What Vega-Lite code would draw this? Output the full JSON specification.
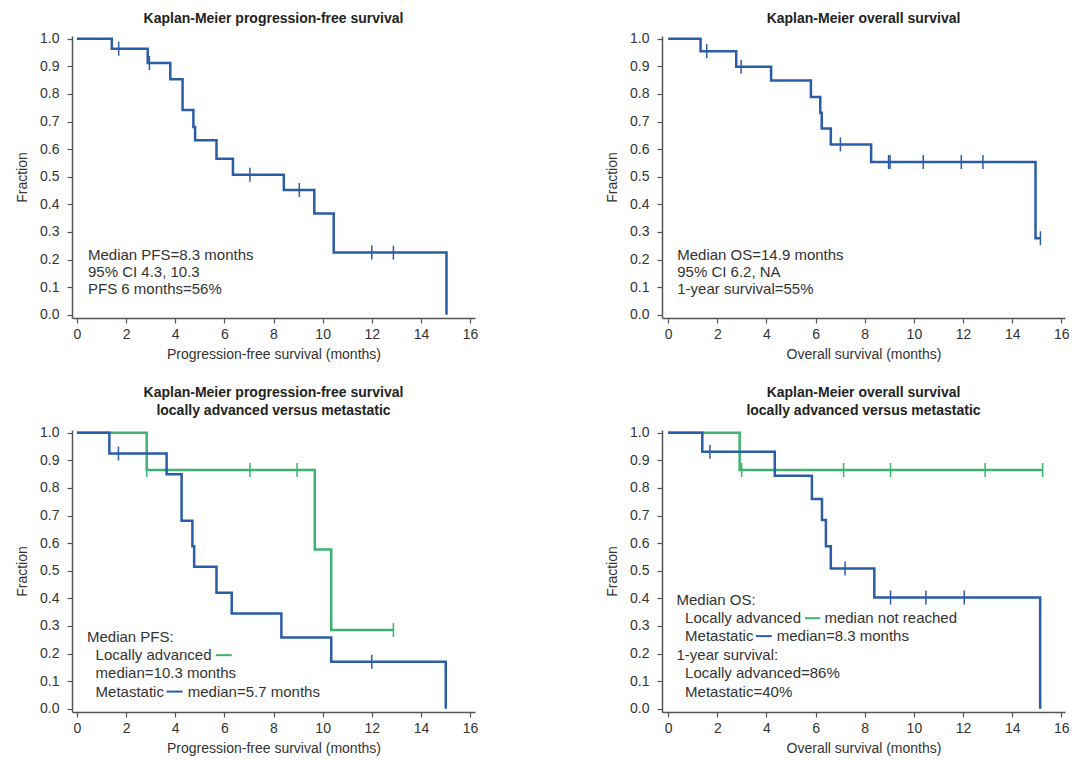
{
  "$schema": "https://vega.github.io/schema/vega-lite/v6.json",
  "background": "white",
  "padding": {"left": 15, "top": 11, "right": 5, "bottom": 5},
  "datasets": {
    "km": [
      {"p":1,"g":"M","c":0,"t":0,"s":1},
      {"p":1,"g":"M","c":0,"t":1.42,"s":0.964},
      {"p":1,"g":"M","c":0,"t":2.88,"s":0.912},
      {"p":1,"g":"M","c":0,"t":3.8,"s":0.853},
      {"p":1,"g":"M","c":0,"t":4.3,"s":0.742},
      {"p":1,"g":"M","c":0,"t":4.74,"s":0.68},
      {"p":1,"g":"M","c":0,"t":4.81,"s":0.632},
      {"p":1,"g":"M","c":0,"t":5.68,"s":0.565},
      {"p":1,"g":"M","c":0,"t":6.35,"s":0.507},
      {"p":1,"g":"M","c":0,"t":8.42,"s":0.452},
      {"p":1,"g":"M","c":0,"t":9.66,"s":0.367},
      {"p":1,"g":"M","c":0,"t":10.45,"s":0.225},
      {"p":1,"g":"M","c":0,"t":15.04,"s":0},
      {"p":1,"g":"M","c":1,"t":1.7,"s":0.964},
      {"p":1,"g":"M","c":1,"t":2.95,"s":0.912},
      {"p":1,"g":"M","c":1,"t":7.04,"s":0.507},
      {"p":1,"g":"M","c":1,"t":9.05,"s":0.452},
      {"p":1,"g":"M","c":1,"t":12.0,"s":0.225},
      {"p":1,"g":"M","c":1,"t":12.88,"s":0.225},

      {"p":2,"g":"M","c":0,"t":0,"s":1},
      {"p":2,"g":"M","c":0,"t":1.32,"s":0.955},
      {"p":2,"g":"M","c":0,"t":2.77,"s":0.899},
      {"p":2,"g":"M","c":0,"t":4.19,"s":0.849},
      {"p":2,"g":"M","c":0,"t":5.81,"s":0.789},
      {"p":2,"g":"M","c":0,"t":6.19,"s":0.732},
      {"p":2,"g":"M","c":0,"t":6.25,"s":0.675},
      {"p":2,"g":"M","c":0,"t":6.62,"s":0.617},
      {"p":2,"g":"M","c":0,"t":8.26,"s":0.553},
      {"p":2,"g":"M","c":0,"t":14.95,"s":0.277},
      {"p":2,"g":"M","c":0,"t":15.15,"s":0.277},
      {"p":2,"g":"M","c":1,"t":1.57,"s":0.955},
      {"p":2,"g":"M","c":1,"t":2.97,"s":0.899},
      {"p":2,"g":"M","c":1,"t":7.01,"s":0.617},
      {"p":2,"g":"M","c":1,"t":8.97,"s":0.553},
      {"p":2,"g":"M","c":1,"t":9.03,"s":0.553},
      {"p":2,"g":"M","c":1,"t":10.38,"s":0.553},
      {"p":2,"g":"M","c":1,"t":11.93,"s":0.553},
      {"p":2,"g":"M","c":1,"t":12.81,"s":0.553},
      {"p":2,"g":"M","c":1,"t":15.15,"s":0.277},

      {"p":3,"g":"L","c":0,"t":0,"s":1},
      {"p":3,"g":"L","c":0,"t":2.84,"s":0.865},
      {"p":3,"g":"L","c":0,"t":9.68,"s":0.577},
      {"p":3,"g":"L","c":0,"t":10.35,"s":0.285},
      {"p":3,"g":"L","c":0,"t":12.88,"s":0.285},
      {"p":3,"g":"L","c":1,"t":2.84,"s":0.865},
      {"p":3,"g":"L","c":1,"t":7.04,"s":0.865},
      {"p":3,"g":"L","c":1,"t":8.96,"s":0.865},
      {"p":3,"g":"L","c":1,"t":12.88,"s":0.285},
      {"p":3,"g":"M","c":0,"t":0,"s":1},
      {"p":3,"g":"M","c":0,"t":1.32,"s":0.925},
      {"p":3,"g":"M","c":0,"t":3.65,"s":0.85},
      {"p":3,"g":"M","c":0,"t":4.26,"s":0.681},
      {"p":3,"g":"M","c":0,"t":4.7,"s":0.589},
      {"p":3,"g":"M","c":0,"t":4.77,"s":0.514},
      {"p":3,"g":"M","c":0,"t":5.68,"s":0.42},
      {"p":3,"g":"M","c":0,"t":6.3,"s":0.345},
      {"p":3,"g":"M","c":0,"t":8.32,"s":0.258},
      {"p":3,"g":"M","c":0,"t":10.35,"s":0.17},
      {"p":3,"g":"M","c":0,"t":15.01,"s":0},
      {"p":3,"g":"M","c":1,"t":1.69,"s":0.925},
      {"p":3,"g":"M","c":1,"t":12.0,"s":0.17},

      {"p":4,"g":"L","c":0,"t":0,"s":1},
      {"p":4,"g":"L","c":0,"t":2.91,"s":0.865},
      {"p":4,"g":"L","c":0,"t":15.24,"s":0.865},
      {"p":4,"g":"L","c":1,"t":2.99,"s":0.865},
      {"p":4,"g":"L","c":1,"t":7.14,"s":0.865},
      {"p":4,"g":"L","c":1,"t":9.05,"s":0.865},
      {"p":4,"g":"L","c":1,"t":12.9,"s":0.865},
      {"p":4,"g":"L","c":1,"t":15.24,"s":0.865},
      {"p":4,"g":"M","c":0,"t":0,"s":1},
      {"p":4,"g":"M","c":0,"t":1.39,"s":0.931},
      {"p":4,"g":"M","c":0,"t":4.34,"s":0.844},
      {"p":4,"g":"M","c":0,"t":5.85,"s":0.76},
      {"p":4,"g":"M","c":0,"t":6.26,"s":0.684},
      {"p":4,"g":"M","c":0,"t":6.42,"s":0.589},
      {"p":4,"g":"M","c":0,"t":6.62,"s":0.508},
      {"p":4,"g":"M","c":0,"t":8.39,"s":0.403},
      {"p":4,"g":"M","c":0,"t":15.14,"s":0},
      {"p":4,"g":"M","c":1,"t":1.7,"s":0.931},
      {"p":4,"g":"M","c":1,"t":7.2,"s":0.508},
      {"p":4,"g":"M","c":1,"t":9.05,"s":0.403},
      {"p":4,"g":"M","c":1,"t":10.49,"s":0.403},
      {"p":4,"g":"M","c":1,"t":12.05,"s":0.403}
    ],
    "notes": [
      {"p":1,"k":"a","note":"Median PFS=8.3 months"},
      {"p":1,"k":"b","note":"95% CI 4.3, 10.3"},
      {"p":1,"k":"c","note":"PFS 6 months=56%"},
      {"p":2,"k":"a","note":"Median OS=14.9 months"},
      {"p":2,"k":"b","note":"95% CI 6.2, NA"},
      {"p":2,"k":"c","note":"1-year survival=55%"},
      {"p":3,"k":"a","note":"Median PFS:"},
      {"p":3,"k":"b","note":"Locally advanced"},
      {"p":3,"k":"c","note":"median=10.3 months"},
      {"p":3,"k":"d","note":"Metastatic"},
      {"p":3,"k":"e","note":"median=5.7 months"},
      {"p":4,"k":"a","note":"Median OS:"},
      {"p":4,"k":"b","note":"Locally advanced"},
      {"p":4,"k":"c","note":"median not reached"},
      {"p":4,"k":"d","note":"Metastatic"},
      {"p":4,"k":"e","note":"median=8.3 months"},
      {"p":4,"k":"f","note":"1-year survival:"},
      {"p":4,"k":"g","note":"Locally advanced=86%"},
      {"p":4,"k":"h","note":"Metastatic=40%"}
    ]
  },
  "config": {
    "font": "Liberation Sans",
    "view": {"stroke": null},
    "axis": {
      "grid": false,
      "domainColor": "#555555",
      "domainWidth": 1.5,
      "tickColor": "#555555",
      "tickWidth": 1.2,
      "tickSize": 5,
      "labelColor": "#333333",
      "labelFontSize": 14,
      "labelFont": "Liberation Sans",
      "titleColor": "#333333",
      "titleFontSize": 14,
      "titleFontWeight": "normal",
      "titleFont": "Liberation Sans"
    },
    "axisY": {"labelPadding": 8, "titlePadding": 10},
    "axisX": {"labelPadding": 4, "titlePadding": 6},
    "title": {"fontSize": 14, "fontWeight": "bold", "color": "#222222", "font": "Liberation Sans", "anchor": "middle"},
    "text": {"align": "left", "baseline": "middle", "fontSize": 15, "color": "#333333", "font": "Liberation Sans"}
  },
  "columns": 2,
  "spacing": {"row": 112, "column": 187},
  "bounds": "flush",
  "concat": [
    {
      "width": 403, "height": 282,
      "title": {"text": "Kaplan-Meier progression-free survival", "offset": 6},
      "layer": [
        {"data": {"name": "km"}, "transform": [{"filter": "datum.p == 1 && datum.c == 0"}], "mark": {"type": "line", "interpolate": "step-after", "strokeWidth": 2.5},
         "encoding": {
          "x": {"field": "t", "type": "quantitative", "scale": {"domain": [-0.2, 16.2], "nice": false, "zero": false}, "axis": {"values": [0,2,4,6,8,10,12,14,16], "title": "Progression-free survival (months)"}},
          "y": {"field": "s", "type": "quantitative", "scale": {"domain": [-0.012, 1.01], "nice": false, "zero": false}, "axis": {"values": [0,0.1,0.2,0.3,0.4,0.5,0.6,0.7,0.8,0.9,1], "format": ".1f", "title": "Fraction"}},
          "color": {"field": "g", "type": "nominal", "scale": {"domain": ["L","M"], "range": ["#3cb371","#2b5ca8"]}, "legend": null}}},
        {"data": {"name": "km"}, "transform": [{"filter": "datum.p == 1 && datum.c == 1"}], "mark": {"type": "point", "shape": "M0,-1L0,1", "size": 196, "strokeWidth": 1.5, "filled": false, "opacity": 1},
         "encoding": {"x": {"field": "t", "type": "quantitative", "axis": {"values": [0,2,4,6,8,10,12,14,16], "title": "Progression-free survival (months)"}}, "y": {"field": "s", "type": "quantitative", "axis": {"values": [0,0.1,0.2,0.3,0.4,0.5,0.6,0.7,0.8,0.9,1], "format": ".1f", "title": "Fraction"}}, "color": {"field": "g", "type": "nominal", "legend": null}}},
        {"data": {"name": "notes"}, "transform": [{"filter": "datum.p == 1 && datum.k == 'a'"}], "mark": "text", "encoding": {"x": {"datum": 0.45, "type": "quantitative", "axis": {"values": [0,2,4,6,8,10,12,14,16], "title": "Progression-free survival (months)"}}, "y": {"datum": 0.216, "type": "quantitative", "axis": {"values": [0,0.1,0.2,0.3,0.4,0.5,0.6,0.7,0.8,0.9,1], "format": ".1f", "title": "Fraction"}}, "text": {"field": "note", "type": "nominal"}}},
        {"data": {"name": "notes"}, "transform": [{"filter": "datum.p == 1 && datum.k == 'b'"}], "mark": "text", "encoding": {"x": {"datum": 0.45, "type": "quantitative", "axis": {"values": [0,2,4,6,8,10,12,14,16], "title": "Progression-free survival (months)"}}, "y": {"datum": 0.155, "type": "quantitative", "axis": {"values": [0,0.1,0.2,0.3,0.4,0.5,0.6,0.7,0.8,0.9,1], "format": ".1f", "title": "Fraction"}}, "text": {"field": "note", "type": "nominal"}}},
        {"data": {"name": "notes"}, "transform": [{"filter": "datum.p == 1 && datum.k == 'c'"}], "mark": "text", "encoding": {"x": {"datum": 0.45, "type": "quantitative", "axis": {"values": [0,2,4,6,8,10,12,14,16], "title": "Progression-free survival (months)"}}, "y": {"datum": 0.094, "type": "quantitative", "axis": {"values": [0,0.1,0.2,0.3,0.4,0.5,0.6,0.7,0.8,0.9,1], "format": ".1f", "title": "Fraction"}}, "text": {"field": "note", "type": "nominal"}}}
      ]
    },
    {
      "width": 403, "height": 282,
      "title": {"text": "Kaplan-Meier overall survival", "offset": 6},
      "layer": [
        {"data": {"name": "km"}, "transform": [{"filter": "datum.p == 2 && datum.c == 0"}], "mark": {"type": "line", "interpolate": "step-after", "strokeWidth": 2.5},
         "encoding": {
          "x": {"field": "t", "type": "quantitative", "scale": {"domain": [-0.25, 16.15], "nice": false, "zero": false}, "axis": {"values": [0,2,4,6,8,10,12,14,16], "title": "Overall survival (months)"}},
          "y": {"field": "s", "type": "quantitative", "scale": {"domain": [-0.012, 1.01], "nice": false, "zero": false}, "axis": {"values": [0,0.1,0.2,0.3,0.4,0.5,0.6,0.7,0.8,0.9,1], "format": ".1f", "title": "Fraction"}},
          "color": {"field": "g", "type": "nominal", "scale": {"domain": ["L","M"], "range": ["#3cb371","#2b5ca8"]}, "legend": null}}},
        {"data": {"name": "km"}, "transform": [{"filter": "datum.p == 2 && datum.c == 1"}], "mark": {"type": "point", "shape": "M0,-1L0,1", "size": 196, "strokeWidth": 1.5, "filled": false, "opacity": 1},
         "encoding": {"x": {"field": "t", "type": "quantitative", "axis": {"values": [0,2,4,6,8,10,12,14,16], "title": "Overall survival (months)"}}, "y": {"field": "s", "type": "quantitative", "axis": {"values": [0,0.1,0.2,0.3,0.4,0.5,0.6,0.7,0.8,0.9,1], "format": ".1f", "title": "Fraction"}}, "color": {"field": "g", "type": "nominal", "legend": null}}},
        {"data": {"name": "notes"}, "transform": [{"filter": "datum.p == 2 && datum.k == 'a'"}], "mark": "text", "encoding": {"x": {"datum": 0.37, "type": "quantitative", "axis": {"values": [0,2,4,6,8,10,12,14,16], "title": "Overall survival (months)"}}, "y": {"datum": 0.216, "type": "quantitative", "axis": {"values": [0,0.1,0.2,0.3,0.4,0.5,0.6,0.7,0.8,0.9,1], "format": ".1f", "title": "Fraction"}}, "text": {"field": "note", "type": "nominal"}}},
        {"data": {"name": "notes"}, "transform": [{"filter": "datum.p == 2 && datum.k == 'b'"}], "mark": "text", "encoding": {"x": {"datum": 0.37, "type": "quantitative", "axis": {"values": [0,2,4,6,8,10,12,14,16], "title": "Overall survival (months)"}}, "y": {"datum": 0.155, "type": "quantitative", "axis": {"values": [0,0.1,0.2,0.3,0.4,0.5,0.6,0.7,0.8,0.9,1], "format": ".1f", "title": "Fraction"}}, "text": {"field": "note", "type": "nominal"}}},
        {"data": {"name": "notes"}, "transform": [{"filter": "datum.p == 2 && datum.k == 'c'"}], "mark": "text", "encoding": {"x": {"datum": 0.37, "type": "quantitative", "axis": {"values": [0,2,4,6,8,10,12,14,16], "title": "Overall survival (months)"}}, "y": {"datum": 0.094, "type": "quantitative", "axis": {"values": [0,0.1,0.2,0.3,0.4,0.5,0.6,0.7,0.8,0.9,1], "format": ".1f", "title": "Fraction"}}, "text": {"field": "note", "type": "nominal"}}}
      ]
    },
    {
      "width": 403, "height": 282,
      "title": {"text": ["Kaplan-Meier progression-free survival", "locally advanced versus metastatic"], "offset": 8, "lineHeight": 18},
      "layer": [
        {"data": {"name": "km"}, "transform": [{"filter": "datum.p == 3 && datum.c == 0"}], "mark": {"type": "line", "interpolate": "step-after", "strokeWidth": 2.5},
         "encoding": {
          "x": {"field": "t", "type": "quantitative", "scale": {"domain": [-0.2, 16.2], "nice": false, "zero": false}, "axis": {"values": [0,2,4,6,8,10,12,14,16], "title": "Progression-free survival (months)"}},
          "y": {"field": "s", "type": "quantitative", "scale": {"domain": [-0.012, 1.01], "nice": false, "zero": false}, "axis": {"values": [0,0.1,0.2,0.3,0.4,0.5,0.6,0.7,0.8,0.9,1], "format": ".1f", "title": "Fraction"}},
          "color": {"field": "g", "type": "nominal", "scale": {"domain": ["L","M"], "range": ["#3cb371","#2b5ca8"]}, "legend": null}}},
        {"data": {"name": "km"}, "transform": [{"filter": "datum.p == 3 && datum.c == 1"}], "mark": {"type": "point", "shape": "M0,-1L0,1", "size": 196, "strokeWidth": 1.5, "filled": false, "opacity": 1},
         "encoding": {"x": {"field": "t", "type": "quantitative", "axis": {"values": [0,2,4,6,8,10,12,14,16], "title": "Progression-free survival (months)"}}, "y": {"field": "s", "type": "quantitative", "axis": {"values": [0,0.1,0.2,0.3,0.4,0.5,0.6,0.7,0.8,0.9,1], "format": ".1f", "title": "Fraction"}}, "color": {"field": "g", "type": "nominal", "legend": null}}},
        {"data": {"name": "notes"}, "transform": [{"filter": "datum.p == 3 && datum.k == 'a'"}], "mark": "text", "encoding": {"x": {"datum": 0.41, "type": "quantitative", "axis": {"values": [0,2,4,6,8,10,12,14,16], "title": "Progression-free survival (months)"}}, "y": {"datum": 0.26, "type": "quantitative", "axis": {"values": [0,0.1,0.2,0.3,0.4,0.5,0.6,0.7,0.8,0.9,1], "format": ".1f", "title": "Fraction"}}, "text": {"field": "note", "type": "nominal"}}},
        {"data": {"name": "notes"}, "transform": [{"filter": "datum.p == 3 && datum.k == 'b'"}], "mark": "text", "encoding": {"x": {"datum": 0.76, "type": "quantitative", "axis": {"values": [0,2,4,6,8,10,12,14,16], "title": "Progression-free survival (months)"}}, "y": {"datum": 0.194, "type": "quantitative", "axis": {"values": [0,0.1,0.2,0.3,0.4,0.5,0.6,0.7,0.8,0.9,1], "format": ".1f", "title": "Fraction"}}, "text": {"field": "note", "type": "nominal"}}},
        {"data": {"name": "notes"}, "transform": [{"filter": "datum.p == 3 && datum.k == 'c'"}], "mark": "text", "encoding": {"x": {"datum": 0.76, "type": "quantitative", "axis": {"values": [0,2,4,6,8,10,12,14,16], "title": "Progression-free survival (months)"}}, "y": {"datum": 0.128, "type": "quantitative", "axis": {"values": [0,0.1,0.2,0.3,0.4,0.5,0.6,0.7,0.8,0.9,1], "format": ".1f", "title": "Fraction"}}, "text": {"field": "note", "type": "nominal"}}},
        {"data": {"name": "notes"}, "transform": [{"filter": "datum.p == 3 && datum.k == 'd'"}], "mark": "text", "encoding": {"x": {"datum": 0.76, "type": "quantitative", "axis": {"values": [0,2,4,6,8,10,12,14,16], "title": "Progression-free survival (months)"}}, "y": {"datum": 0.062, "type": "quantitative", "axis": {"values": [0,0.1,0.2,0.3,0.4,0.5,0.6,0.7,0.8,0.9,1], "format": ".1f", "title": "Fraction"}}, "text": {"field": "note", "type": "nominal"}}},
        {"data": {"name": "notes"}, "transform": [{"filter": "datum.p == 3 && datum.k == 'e'"}], "mark": "text", "encoding": {"x": {"datum": 4.51, "type": "quantitative", "axis": {"values": [0,2,4,6,8,10,12,14,16], "title": "Progression-free survival (months)"}}, "y": {"datum": 0.062, "type": "quantitative", "axis": {"values": [0,0.1,0.2,0.3,0.4,0.5,0.6,0.7,0.8,0.9,1], "format": ".1f", "title": "Fraction"}}, "text": {"field": "note", "type": "nominal"}}},
        {"data": {"name": "notes"}, "transform": [{"filter": "datum.p == 3 && datum.k == 'b'"}], "mark": {"type": "rule", "color": "#3cb371", "strokeWidth": 2}, "encoding": {"x": {"datum": 5.65, "type": "quantitative", "axis": {"values": [0,2,4,6,8,10,12,14,16], "title": "Progression-free survival (months)"}}, "x2": {"datum": 6.3}, "y": {"datum": 0.194, "type": "quantitative", "axis": {"values": [0,0.1,0.2,0.3,0.4,0.5,0.6,0.7,0.8,0.9,1], "format": ".1f", "title": "Fraction"}}}},
        {"data": {"name": "notes"}, "transform": [{"filter": "datum.p == 3 && datum.k == 'd'"}], "mark": {"type": "rule", "color": "#2b5ca8", "strokeWidth": 2}, "encoding": {"x": {"datum": 3.65, "type": "quantitative", "axis": {"values": [0,2,4,6,8,10,12,14,16], "title": "Progression-free survival (months)"}}, "x2": {"datum": 4.3}, "y": {"datum": 0.062, "type": "quantitative", "axis": {"values": [0,0.1,0.2,0.3,0.4,0.5,0.6,0.7,0.8,0.9,1], "format": ".1f", "title": "Fraction"}}}}
      ]
    },
    {
      "width": 403, "height": 282,
      "title": {"text": ["Kaplan-Meier overall survival", "locally advanced versus metastatic"], "offset": 8, "lineHeight": 18},
      "layer": [
        {"data": {"name": "km"}, "transform": [{"filter": "datum.p == 4 && datum.c == 0"}], "mark": {"type": "line", "interpolate": "step-after", "strokeWidth": 2.5},
         "encoding": {
          "x": {"field": "t", "type": "quantitative", "scale": {"domain": [-0.25, 16.15], "nice": false, "zero": false}, "axis": {"values": [0,2,4,6,8,10,12,14,16], "title": "Overall survival (months)"}},
          "y": {"field": "s", "type": "quantitative", "scale": {"domain": [-0.012, 1.01], "nice": false, "zero": false}, "axis": {"values": [0,0.1,0.2,0.3,0.4,0.5,0.6,0.7,0.8,0.9,1], "format": ".1f", "title": "Fraction"}},
          "color": {"field": "g", "type": "nominal", "scale": {"domain": ["L","M"], "range": ["#3cb371","#2b5ca8"]}, "legend": null}}},
        {"data": {"name": "km"}, "transform": [{"filter": "datum.p == 4 && datum.c == 1"}], "mark": {"type": "point", "shape": "M0,-1L0,1", "size": 196, "strokeWidth": 1.5, "filled": false, "opacity": 1},
         "encoding": {"x": {"field": "t", "type": "quantitative", "axis": {"values": [0,2,4,6,8,10,12,14,16], "title": "Overall survival (months)"}}, "y": {"field": "s", "type": "quantitative", "axis": {"values": [0,0.1,0.2,0.3,0.4,0.5,0.6,0.7,0.8,0.9,1], "format": ".1f", "title": "Fraction"}}, "color": {"field": "g", "type": "nominal", "legend": null}}},
        {"data": {"name": "notes"}, "transform": [{"filter": "datum.p == 4 && datum.k == 'a'"}], "mark": "text", "encoding": {"x": {"datum": 0.34, "type": "quantitative", "axis": {"values": [0,2,4,6,8,10,12,14,16], "title": "Overall survival (months)"}}, "y": {"datum": 0.394, "type": "quantitative", "axis": {"values": [0,0.1,0.2,0.3,0.4,0.5,0.6,0.7,0.8,0.9,1], "format": ".1f", "title": "Fraction"}}, "text": {"field": "note", "type": "nominal"}}},
        {"data": {"name": "notes"}, "transform": [{"filter": "datum.p == 4 && datum.k == 'b'"}], "mark": "text", "encoding": {"x": {"datum": 0.69, "type": "quantitative", "axis": {"values": [0,2,4,6,8,10,12,14,16], "title": "Overall survival (months)"}}, "y": {"datum": 0.328, "type": "quantitative", "axis": {"values": [0,0.1,0.2,0.3,0.4,0.5,0.6,0.7,0.8,0.9,1], "format": ".1f", "title": "Fraction"}}, "text": {"field": "note", "type": "nominal"}}},
        {"data": {"name": "notes"}, "transform": [{"filter": "datum.p == 4 && datum.k == 'c'"}], "mark": "text", "encoding": {"x": {"datum": 6.36, "type": "quantitative", "axis": {"values": [0,2,4,6,8,10,12,14,16], "title": "Overall survival (months)"}}, "y": {"datum": 0.328, "type": "quantitative", "axis": {"values": [0,0.1,0.2,0.3,0.4,0.5,0.6,0.7,0.8,0.9,1], "format": ".1f", "title": "Fraction"}}, "text": {"field": "note", "type": "nominal"}}},
        {"data": {"name": "notes"}, "transform": [{"filter": "datum.p == 4 && datum.k == 'd'"}], "mark": "text", "encoding": {"x": {"datum": 0.69, "type": "quantitative", "axis": {"values": [0,2,4,6,8,10,12,14,16], "title": "Overall survival (months)"}}, "y": {"datum": 0.263, "type": "quantitative", "axis": {"values": [0,0.1,0.2,0.3,0.4,0.5,0.6,0.7,0.8,0.9,1], "format": ".1f", "title": "Fraction"}}, "text": {"field": "note", "type": "nominal"}}},
        {"data": {"name": "notes"}, "transform": [{"filter": "datum.p == 4 && datum.k == 'e'"}], "mark": "text", "encoding": {"x": {"datum": 4.42, "type": "quantitative", "axis": {"values": [0,2,4,6,8,10,12,14,16], "title": "Overall survival (months)"}}, "y": {"datum": 0.263, "type": "quantitative", "axis": {"values": [0,0.1,0.2,0.3,0.4,0.5,0.6,0.7,0.8,0.9,1], "format": ".1f", "title": "Fraction"}}, "text": {"field": "note", "type": "nominal"}}},
        {"data": {"name": "notes"}, "transform": [{"filter": "datum.p == 4 && datum.k == 'f'"}], "mark": "text", "encoding": {"x": {"datum": 0.34, "type": "quantitative", "axis": {"values": [0,2,4,6,8,10,12,14,16], "title": "Overall survival (months)"}}, "y": {"datum": 0.195, "type": "quantitative", "axis": {"values": [0,0.1,0.2,0.3,0.4,0.5,0.6,0.7,0.8,0.9,1], "format": ".1f", "title": "Fraction"}}, "text": {"field": "note", "type": "nominal"}}},
        {"data": {"name": "notes"}, "transform": [{"filter": "datum.p == 4 && datum.k == 'g'"}], "mark": "text", "encoding": {"x": {"datum": 0.69, "type": "quantitative", "axis": {"values": [0,2,4,6,8,10,12,14,16], "title": "Overall survival (months)"}}, "y": {"datum": 0.128, "type": "quantitative", "axis": {"values": [0,0.1,0.2,0.3,0.4,0.5,0.6,0.7,0.8,0.9,1], "format": ".1f", "title": "Fraction"}}, "text": {"field": "note", "type": "nominal"}}},
        {"data": {"name": "notes"}, "transform": [{"filter": "datum.p == 4 && datum.k == 'h'"}], "mark": "text", "encoding": {"x": {"datum": 0.69, "type": "quantitative", "axis": {"values": [0,2,4,6,8,10,12,14,16], "title": "Overall survival (months)"}}, "y": {"datum": 0.062, "type": "quantitative", "axis": {"values": [0,0.1,0.2,0.3,0.4,0.5,0.6,0.7,0.8,0.9,1], "format": ".1f", "title": "Fraction"}}, "text": {"field": "note", "type": "nominal"}}},
        {"data": {"name": "notes"}, "transform": [{"filter": "datum.p == 4 && datum.k == 'b'"}], "mark": {"type": "rule", "color": "#3cb371", "strokeWidth": 2}, "encoding": {"x": {"datum": 5.57, "type": "quantitative", "axis": {"values": [0,2,4,6,8,10,12,14,16], "title": "Overall survival (months)"}}, "x2": {"datum": 6.19}, "y": {"datum": 0.328, "type": "quantitative", "axis": {"values": [0,0.1,0.2,0.3,0.4,0.5,0.6,0.7,0.8,0.9,1], "format": ".1f", "title": "Fraction"}}}},
        {"data": {"name": "notes"}, "transform": [{"filter": "datum.p == 4 && datum.k == 'd'"}], "mark": {"type": "rule", "color": "#2b5ca8", "strokeWidth": 2}, "encoding": {"x": {"datum": 3.57, "type": "quantitative", "axis": {"values": [0,2,4,6,8,10,12,14,16], "title": "Overall survival (months)"}}, "x2": {"datum": 4.22}, "y": {"datum": 0.263, "type": "quantitative", "axis": {"values": [0,0.1,0.2,0.3,0.4,0.5,0.6,0.7,0.8,0.9,1], "format": ".1f", "title": "Fraction"}}}}
      ]
    }
  ]
}
